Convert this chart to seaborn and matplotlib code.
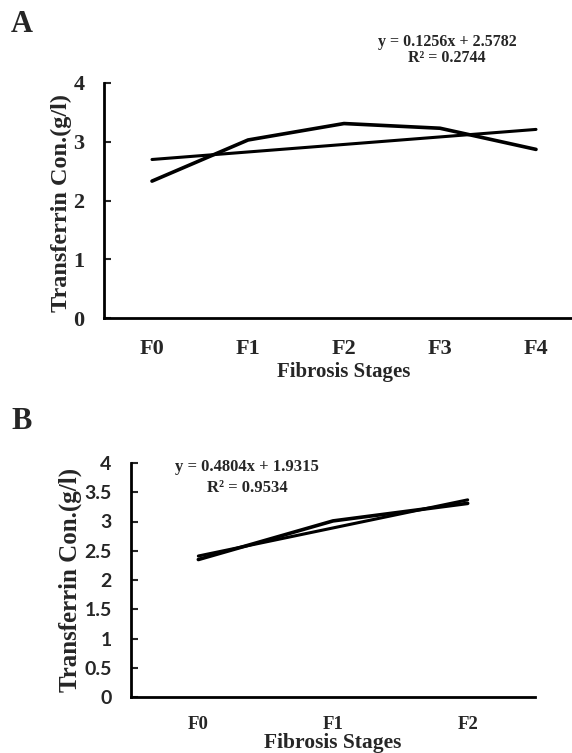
import numpy as np
import matplotlib
matplotlib.use("Agg")
import matplotlib.pyplot as plt
import seaborn as sns
from matplotlib.ticker import FormatStrFormatter

# panel A: all five stages
stages_a = ["F0", "F1", "F2", "F3", "F4"]
tf_a = [2.33, 3.03, 3.31, 3.23, 2.87]
eq_a = "y = 0.1256x + 2.5782"
r2_a = "R² = 0.2744"

# panel B: early stages only
stages_b = ["F0", "F1", "F2"]
tf_b = [2.35, 3.01, 3.31]
eq_b = "y = 0.4804x + 1.9315"
r2_b = "R² = 0.9534"

yticks_a = [0, 1, 2, 3, 4]
yticks_b = [0, 0.5, 1, 1.5, 2, 2.5, 3, 3.5, 4]

sns.set_style("ticks")
plt.rcParams["font.family"] = ["Liberation Serif", "DejaVu Serif"]

W, H = 572, 753
fig = plt.figure(figsize=(W / 100, H / 100), dpi=100)


def fx(px):
    return px / W


def fy(py):
    return 1 - py / H


serif = dict(family=["Liberation Serif", "DejaVu Serif"], fontweight="bold")
sans = dict(family=["Lato", "DejaVu Sans"], fontweight="bold")


def draw_panel(ax, stages, vals, yticks, xmax):
    x = np.arange(len(stages))
    sns.lineplot(x=x, y=vals, ax=ax, color="black", linewidth=2.6)
    sns.regplot(x=x, y=vals, ax=ax, scatter=False, ci=None, truncate=True,
                line_kws=dict(color="black", linewidth=2.2))
    ax.set_xlim(-0.5, xmax)
    ax.set_ylim(0, 4)
    ax.set_xticks(x)
    ax.set_xticklabels(stages)
    ax.set_yticks(yticks)
    ax.set_xlabel("")
    ax.set_ylabel("")
    for s in ["top", "right"]:
        ax.spines[s].set_visible(False)
    for s in ["left", "bottom"]:
        ax.spines[s].set_linewidth(2)
        ax.spines[s].set_color("black")
    ax.tick_params(axis="y", direction="in", length=5, width=1.5, pad=14)
    ax.tick_params(axis="x", length=0)


# ---- panel A ----
axA = fig.add_axes([fx(104), fy(318), fx(572 - 104), fy(83) - fy(318)])
draw_panel(axA, stages_a, tf_a, yticks_a, -0.5 + (572 - 104) / 96)
axA.spines["bottom"].set_bounds(-0.5, 4.5)
axA.tick_params(axis="x", pad=15)
for t in axA.get_xticklabels() + axA.get_yticklabels():
    t.set_fontfamily(serif["family"])
    t.set_fontweight("bold")
    t.set_fontsize(16)

fig.text(fx(22), fy(25), "A", fontsize=22, ha="center", va="center", **serif)
fig.text(fx(447), fy(42), eq_a, fontsize=11.5, ha="center", va="center", **serif)
fig.text(fx(447), fy(58), r2_a, fontsize=11.5, ha="center", va="center", **serif)
fig.text(fx(61), fy(203), "Transferrin Con.(g/l)", fontsize=17.5, rotation=90,
         ha="center", va="center", **serif)
fig.text(fx(344), fy(372), "Fibrosis Stages", fontsize=15, ha="center", va="center", **serif)

# ---- panel B ----
axB = fig.add_axes([fx(131), fy(697), fx(535 - 131), fy(463) - fy(697)])
draw_panel(axB, stages_b, tf_b, yticks_b, 2.5)
axB.yaxis.set_major_formatter(FormatStrFormatter("%g"))
axB.tick_params(axis="x", pad=14)
for t in axB.get_yticklabels():
    t.set_fontfamily(sans["family"])
    t.set_fontweight("bold")
    t.set_fontsize(14)
for t in axB.get_xticklabels():
    t.set_fontfamily(serif["family"])
    t.set_fontweight("bold")
    t.set_fontsize(13.5)

fig.text(fx(22), fy(422), "B", fontsize=22, ha="center", va="center", **serif)
fig.text(fx(247), fy(467), eq_b, fontsize=12, ha="center", va="center", **serif)
fig.text(fx(247), fy(488), r2_b, fontsize=12, ha="center", va="center", **serif)
fig.text(fx(70), fy(580), "Transferrin Con.(g/l)", fontsize=18, rotation=90,
         ha="center", va="center", **serif)
fig.text(fx(333), fy(743), "Fibrosis Stages", fontsize=15.5, ha="center", va="center", **serif)

fig.savefig("out.png", dpi=100)
